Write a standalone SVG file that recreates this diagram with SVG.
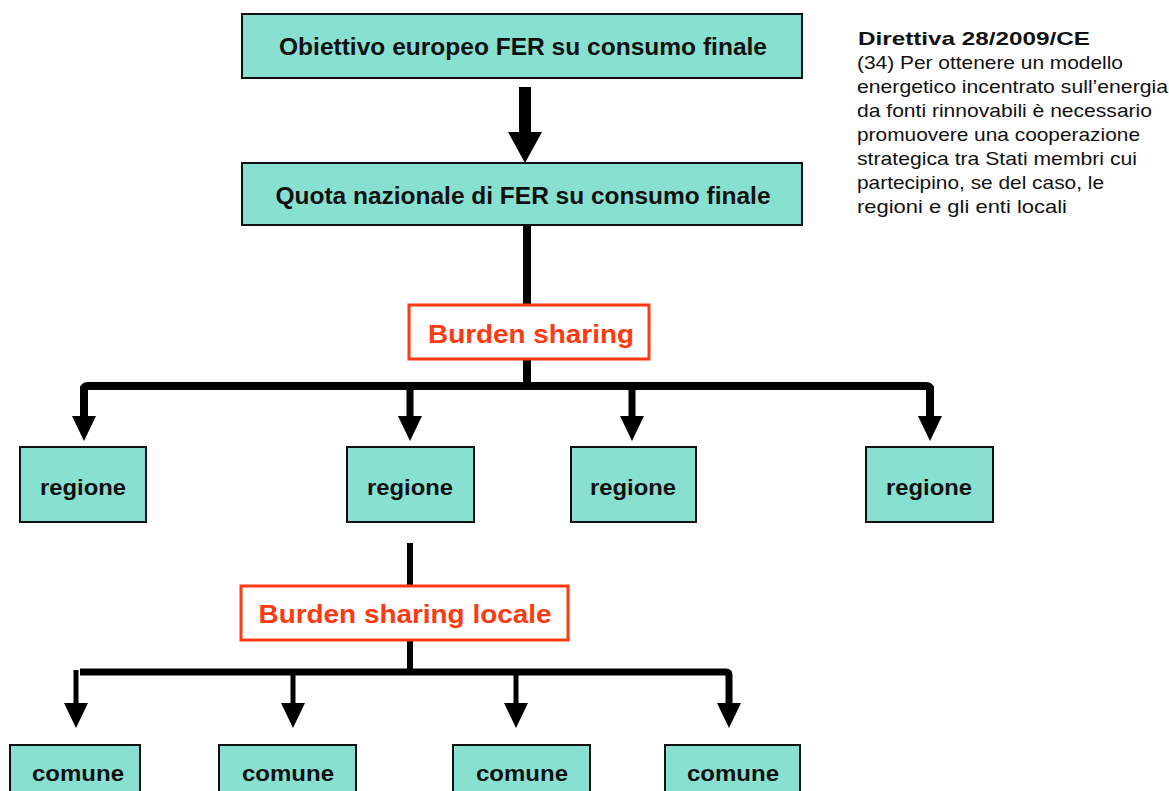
<svg xmlns="http://www.w3.org/2000/svg" width="1169" height="791" viewBox="0 0 1169 791">
<style>
.box{fill:#88E0D1;stroke:#111;stroke-width:2}
.red{fill:#fff;stroke:#FF3A10;stroke-width:3}
.t{font-family:"Liberation Sans",Arial,sans-serif;font-weight:bold;fill:#111;text-anchor:middle}
.rt{font-family:"Liberation Sans",Arial,sans-serif;font-weight:bold;fill:#FF3A10;text-anchor:middle;font-size:26px}
.note{font-family:"Liberation Sans",Arial,sans-serif;fill:#111;font-size:18.5px}
.ln{stroke:#000;fill:none}
</style>
<defs>
<marker id="big" markerUnits="userSpaceOnUse" markerWidth="31" markerHeight="34" refX="0" refY="17" orient="auto" viewBox="0 0 31 34">
<polygon points="0,0 31,17 0,34" fill="#000"/>
</marker>
<marker id="sm" markerUnits="userSpaceOnUse" markerWidth="25" markerHeight="24" refX="0" refY="12" orient="auto" viewBox="0 0 25 24">
<polygon points="0,0 25,12 0,24" fill="#000"/>
</marker>
</defs>
<g id="connectors">
<line class="ln" x1="525" y1="87" x2="525" y2="132" stroke-width="12" marker-end="url(#big)"/>
<line class="ln" x1="527" y1="226" x2="527" y2="305" stroke-width="8"/>
<line class="ln" x1="527" y1="359" x2="527" y2="384" stroke-width="8"/>
<path class="ln" d="M84,416 V390 Q84,386 88,386 H926 Q930,386 930,390 V416" stroke-width="8"/>
<line class="ln" x1="84" y1="386" x2="84" y2="416" stroke-width="8" marker-end="url(#sm)"/>
<line class="ln" x1="410" y1="386" x2="410" y2="416" stroke-width="7" marker-end="url(#sm)"/>
<line class="ln" x1="632" y1="386" x2="632" y2="416" stroke-width="7" marker-end="url(#sm)"/>
<line class="ln" x1="930" y1="386" x2="930" y2="416" stroke-width="8" marker-end="url(#sm)"/>
<line class="ln" x1="410" y1="543" x2="410" y2="586" stroke-width="6"/>
<line class="ln" x1="410" y1="640" x2="410" y2="670" stroke-width="6"/>
<path class="ln" d="M80,672 H726 Q729,672 729,675 V703" stroke-width="7"/>
<line class="ln" x1="76" y1="670" x2="76" y2="703" stroke-width="5" marker-end="url(#sm)"/>
<line class="ln" x1="293" y1="672" x2="293" y2="703" stroke-width="5" marker-end="url(#sm)"/>
<line class="ln" x1="516" y1="672" x2="516" y2="703" stroke-width="5" marker-end="url(#sm)"/>
<line class="ln" x1="729" y1="672" x2="729" y2="703" stroke-width="5" marker-end="url(#sm)"/>
</g>
<g id="obiettivo"><rect class="box" x="242" y="14" width="560" height="64"/><text class="t" x="523" y="55" font-size="23" textLength="488" lengthAdjust="spacingAndGlyphs">Obiettivo europeo FER su consumo finale</text></g>
<g id="quota"><rect class="box" x="242" y="163" width="560" height="62"/><text class="t" x="523" y="204" font-size="23" textLength="495" lengthAdjust="spacingAndGlyphs">Quota nazionale di FER su consumo finale</text></g>
<g id="burden"><rect class="red" x="409" y="305" width="240" height="54"/><text class="rt" x="531" y="343" textLength="206" lengthAdjust="spacingAndGlyphs">Burden sharing</text></g>
<g id="regione1"><rect class="box" x="20" y="447" width="126" height="75"/><text class="t" x="83" y="495" font-size="22" textLength="86" lengthAdjust="spacingAndGlyphs">regione</text></g>
<g id="regione2"><rect class="box" x="347" y="447" width="127" height="75"/><text class="t" x="410" y="495" font-size="22" textLength="86" lengthAdjust="spacingAndGlyphs">regione</text></g>
<g id="regione3"><rect class="box" x="571" y="447" width="125" height="75"/><text class="t" x="633" y="495" font-size="22" textLength="86" lengthAdjust="spacingAndGlyphs">regione</text></g>
<g id="regione4"><rect class="box" x="866" y="447" width="127" height="75"/><text class="t" x="929" y="495" font-size="22" textLength="86" lengthAdjust="spacingAndGlyphs">regione</text></g>
<g id="burdenlocale"><rect class="red" x="241" y="586" width="327" height="54"/><text class="rt" x="405" y="623" textLength="293" lengthAdjust="spacingAndGlyphs">Burden sharing locale</text></g>
<g id="comune1"><rect class="box" x="10" y="745" width="130" height="60"/><text class="t" x="78" y="781" font-size="22" textLength="92" lengthAdjust="spacingAndGlyphs">comune</text></g>
<g id="comune2"><rect class="box" x="219" y="745" width="137" height="60"/><text class="t" x="288" y="781" font-size="22" textLength="92" lengthAdjust="spacingAndGlyphs">comune</text></g>
<g id="comune3"><rect class="box" x="453" y="745" width="137" height="60"/><text class="t" x="522" y="781" font-size="22" textLength="92" lengthAdjust="spacingAndGlyphs">comune</text></g>
<g id="comune4"><rect class="box" x="665" y="745" width="135" height="60"/><text class="t" x="733" y="781" font-size="22" textLength="92" lengthAdjust="spacingAndGlyphs">comune</text></g>
<g id="nota">
<text class="note" x="858" y="45" font-weight="bold" font-size="20" textLength="232" lengthAdjust="spacingAndGlyphs">Direttiva 28/2009/CE</text>
<text class="note" x="857" y="69" textLength="266" lengthAdjust="spacingAndGlyphs">(34) Per ottenere un modello</text>
<text class="note" x="857" y="93" textLength="311" lengthAdjust="spacingAndGlyphs">energetico incentrato sull’energia</text>
<text class="note" x="857" y="117" textLength="295" lengthAdjust="spacingAndGlyphs">da fonti rinnovabili è necessario</text>
<text class="note" x="857" y="141" textLength="283" lengthAdjust="spacingAndGlyphs">promuovere una cooperazione</text>
<text class="note" x="857" y="165" textLength="280" lengthAdjust="spacingAndGlyphs">strategica tra Stati membri cui</text>
<text class="note" x="857" y="189" textLength="247" lengthAdjust="spacingAndGlyphs">partecipino, se del caso, le</text>
<text class="note" x="857" y="213" textLength="210" lengthAdjust="spacingAndGlyphs">regioni e gli enti locali</text>
</g>
</svg>
